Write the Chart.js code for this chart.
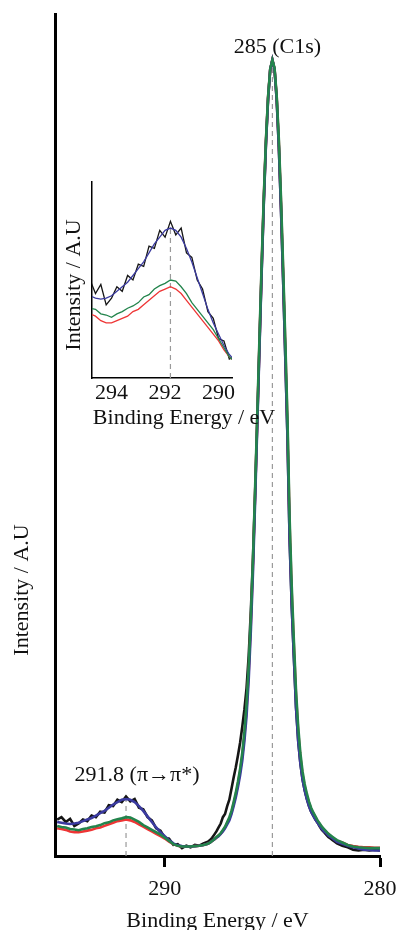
<!DOCTYPE html>
<html>
<head>
<meta charset="utf-8">
<script src="https://cdn.jsdelivr.net/npm/chart.js@4"></script>
<style>
  html, body { margin: 0; padding: 0; background: #fff; }
  #wrap { position: relative; width: 399px; height: 930px; }
  canvas { position: absolute; left: 0; top: 0; }
</style>
</head>
<body>
<div id="wrap">
  <canvas id="mainChart" width="399" height="930"></canvas>
  <canvas id="insetChart" width="399" height="930"></canvas>
</div>
<script>
// binding energy (eV)
const energy = [
  295.0, 294.8, 294.6, 294.4, 294.2, 294.0, 293.8, 293.6, 293.4, 293.2,
  293.0, 292.8, 292.6, 292.4, 292.2, 292.0, 291.8, 291.6, 291.4, 291.2,
  291.0, 290.8, 290.6, 290.4, 290.2, 290.0, 289.8, 289.6, 289.4, 289.2,
  289.0, 288.8, 288.6, 288.4, 288.2,
  288.0, 287.9, 287.8, 287.7, 287.6, 287.5, 287.4, 287.3, 287.2, 287.1,
  287.0, 286.9, 286.8, 286.7, 286.6, 286.5, 286.4, 286.3, 286.2, 286.1,
  286.0, 285.9, 285.8, 285.7, 285.6, 285.5, 285.4, 285.3, 285.2, 285.1,
  285.0, 284.9, 284.8, 284.7, 284.6, 284.5, 284.4, 284.3, 284.2, 284.1,
  284.0, 283.9, 283.8, 283.7, 283.6, 283.5, 283.4, 283.3, 283.2, 283.1,
  283.0, 282.9, 282.8, 282.7, 282.6, 282.5, 282.4, 282.3, 282.2, 282.1,
  282.0,
  281.75, 281.5, 281.25, 281.0, 280.75, 280.5, 280.25, 280.0
];

// normalised intensity of the four spectra
const blackCurve = [
  0.041, 0.044, 0.038, 0.042, 0.033, 0.036, 0.041, 0.039, 0.046, 0.044,
  0.051, 0.050, 0.059, 0.058, 0.066, 0.063, 0.070, 0.064, 0.067, 0.056,
  0.054, 0.044, 0.040, 0.030, 0.027, 0.018, 0.017, 0.009, 0.010, 0.005,
  0.008, 0.006, 0.009, 0.008, 0.011,
  0.013, 0.015, 0.018, 0.022, 0.026, 0.031, 0.036, 0.044, 0.048, 0.058,
  0.066, 0.080, 0.094, 0.107, 0.122, 0.138, 0.158, 0.180, 0.207, 0.248,
  0.305, 0.372, 0.455, 0.546, 0.640, 0.733, 0.820, 0.894, 0.951, 0.988,
  1.000, 0.988, 0.950, 0.890, 0.812, 0.722, 0.625, 0.525, 0.395, 0.310,
  0.245, 0.182, 0.140, 0.112, 0.092, 0.078, 0.067, 0.058, 0.051, 0.046,
  0.041, 0.037, 0.032, 0.028, 0.025, 0.022, 0.019, 0.017, 0.015, 0.013,
  0.011,
  0.008, 0.006, 0.003, 0.002, 0.003, 0.002, 0.003, 0.002
];
const redCurve = [
  0.030, 0.029, 0.028, 0.026, 0.025, 0.025, 0.026, 0.027, 0.028, 0.030,
  0.031, 0.033, 0.035, 0.037, 0.039, 0.040, 0.041, 0.040, 0.038, 0.035,
  0.032, 0.029, 0.026, 0.023, 0.020, 0.017, 0.013, 0.010, 0.008, 0.007,
  0.007, 0.007, 0.0075, 0.008, 0.009,
  0.0105, 0.012, 0.014, 0.016, 0.018, 0.021, 0.023, 0.027, 0.031, 0.037,
  0.042, 0.050, 0.061, 0.072, 0.086, 0.102, 0.121, 0.147, 0.181, 0.228,
  0.290, 0.365, 0.455, 0.549, 0.644, 0.738, 0.824, 0.897, 0.953, 0.988,
  1.000, 0.989, 0.953, 0.896, 0.820, 0.732, 0.638, 0.540, 0.413, 0.326,
  0.259, 0.197, 0.152, 0.120, 0.098, 0.083, 0.071, 0.062, 0.054, 0.049,
  0.044, 0.039, 0.035, 0.031, 0.028, 0.025, 0.023, 0.020, 0.018, 0.016,
  0.014,
  0.012, 0.009, 0.0075, 0.0065, 0.006, 0.006, 0.0055, 0.0055
];
const blueCurve = [
  0.038, 0.037, 0.036, 0.0355, 0.036, 0.037, 0.039, 0.041, 0.043, 0.046,
  0.049, 0.052, 0.056, 0.060, 0.063, 0.066, 0.067, 0.066, 0.063, 0.058,
  0.052, 0.045, 0.038, 0.031, 0.025, 0.020, 0.015, 0.011, 0.0085, 0.0075,
  0.007, 0.007, 0.0075, 0.008, 0.009,
  0.0105, 0.012, 0.014, 0.016, 0.018, 0.020, 0.023, 0.026, 0.030, 0.035,
  0.040, 0.048, 0.058, 0.069, 0.082, 0.097, 0.115, 0.140, 0.172, 0.218,
  0.280, 0.355, 0.445, 0.540, 0.636, 0.730, 0.818, 0.893, 0.950, 0.988,
  1.000, 0.988, 0.950, 0.890, 0.812, 0.722, 0.625, 0.525, 0.395, 0.310,
  0.245, 0.182, 0.140, 0.112, 0.092, 0.078, 0.067, 0.058, 0.051, 0.046,
  0.041, 0.037, 0.033, 0.029, 0.026, 0.024, 0.021, 0.019, 0.017, 0.015,
  0.013,
  0.0105, 0.008, 0.006, 0.0045, 0.003, 0.0025, 0.002, 0.002
];
const greenCurve = [
  0.033, 0.0315, 0.031, 0.029, 0.0285, 0.0275, 0.029, 0.030, 0.0315, 0.0325,
  0.034, 0.0365, 0.0375, 0.040, 0.0415, 0.0425, 0.044, 0.0435, 0.041, 0.038,
  0.034, 0.031, 0.028, 0.025, 0.022, 0.018, 0.014, 0.010, 0.008, 0.007,
  0.007, 0.007, 0.0075, 0.008, 0.009,
  0.0105, 0.012, 0.014, 0.016, 0.019, 0.021, 0.024, 0.028, 0.032, 0.038,
  0.044, 0.052, 0.063, 0.075, 0.089, 0.105, 0.125, 0.152, 0.187, 0.235,
  0.297, 0.372, 0.462, 0.555, 0.650, 0.742, 0.827, 0.899, 0.954, 0.989,
  1.000, 0.990, 0.955, 0.900, 0.826, 0.739, 0.646, 0.549, 0.422, 0.335,
  0.266, 0.203, 0.158, 0.125, 0.102, 0.086, 0.074, 0.064, 0.056, 0.050,
  0.045, 0.040, 0.036, 0.032, 0.029, 0.026, 0.023, 0.021, 0.019, 0.017,
  0.015,
  0.012, 0.009, 0.007, 0.006, 0.0055, 0.005, 0.005, 0.005
];

// marked peaks: position, label, height of the dashed guide
const peakPositions = [285, 291.8];
const peakLabels = ['285 (C1s)', '291.8 (\u03c0\u2192\u03c0*)'];
const guideTops = [1.0, 0.067];

const mainTicks = [290, 280];
const insetTicks = [294, 292, 290];
const xTitle = 'Binding Energy / eV';
const yTitle = 'Intensity / A.U';

const serif = "'Liberation Serif', 'Times New Roman', serif";
Chart.defaults.font.family = serif;
Chart.defaults.color = '#111';

const colors = { black: '#151515', red: '#ee3535', blue: '#3b3ba0', green: '#23844c' };

function series(ys, color, width, order) {
  return {
    data: energy.map((e, i) => ({ x: e, y: ys[i] })),
    borderColor: color, borderWidth: width, pointRadius: 0,
    fill: false, tension: 0, order: order
  };
}

function guide(x, top, bottom) {
  return {
    data: [{ x: x, y: bottom }, { x: x, y: top }],
    borderColor: '#9a9a9a', borderWidth: 1.2, borderDash: [5, 4],
    pointRadius: 0, fill: false, order: 10
  };
}

function spectra(width) {
  return [
    series(blackCurve, colors.black, width, 4),
    series(redCurve, colors.red, width, 3),
    series(blueCurve, colors.blue, width, 2),
    series(greenCurve, colors.green, width, 1)
  ];
}

// keep the plot box where the padding puts it
function fixX(height) {
  return s => { s.height = height; s.paddingLeft = 0; s.paddingRight = 0; };
}

const mainText = {
  id: 'mainText',
  afterDraw(chart) {
    const { ctx, chartArea: a, scales: { x, y } } = chart;
    ctx.save();
    ctx.fillStyle = '#111';
    ctx.font = '22px ' + serif;
    ctx.textAlign = 'center';
    ctx.textBaseline = 'middle';
    ctx.fillText(peakLabels[0], x.getPixelForValue(peakPositions[0]) + 5, y.getPixelForValue(guideTops[0]) - 13);
    ctx.fillText(peakLabels[1], x.getPixelForValue(peakPositions[1]) + 11, y.getPixelForValue(guideTops[1]) - 24);
    ctx.fillText(xTitle, (a.left + a.right) / 2, a.bottom + 65);
    ctx.translate(22, 590);
    ctx.rotate(-Math.PI / 2);
    ctx.fillText(yTitle, 0, 0);
    ctx.restore();
  }
};

const insetText = {
  id: 'insetText',
  afterDraw(chart) {
    const { ctx, chartArea: a } = chart;
    ctx.save();
    ctx.fillStyle = '#111';
    ctx.font = '22px ' + serif;
    ctx.textAlign = 'center';
    ctx.textBaseline = 'middle';
    ctx.fillText(xTitle, a.left + 92, a.bottom + 40);
    ctx.translate(a.left - 18, (a.top + a.bottom) / 2 + 5);
    ctx.rotate(-Math.PI / 2);
    ctx.fillText(yTitle, 0, 0);
    ctx.restore();
  }
};

const mainYMin = -0.005;
new Chart(document.getElementById('mainChart'), {
  type: 'line',
  data: {
    datasets: spectra(2.6).concat([
      guide(peakPositions[0], guideTops[0], mainYMin),
      guide(peakPositions[1], guideTops[1], mainYMin)
    ])
  },
  options: {
    responsive: false,
    animation: false,
    events: [],
    layout: { padding: { left: 55, right: 19, top: 14, bottom: 0 } },
    plugins: { legend: { display: false }, tooltip: { enabled: false } },
    scales: {
      x: {
        type: 'linear', reverse: true, min: 280, max: 295.1,
        afterBuildTicks: s => { s.ticks = mainTicks.map(v => ({ value: v })); },
        afterFit: fixX(74),
        grid: { drawOnChartArea: false, drawTicks: true, tickLength: 11, tickWidth: 3, tickColor: '#000' },
        border: { display: true, color: '#000', width: 3 },
        ticks: { font: { size: 22 }, color: '#111', padding: 9, maxRotation: 0 }
      },
      y: {
        type: 'linear', min: mainYMin, max: 1.058,
        afterFit: s => { s.width = 0; },
        grid: { display: false },
        border: { display: true, color: '#000', width: 3 },
        ticks: { display: false }
      }
    }
  },
  plugins: [mainText]
});

const insetYMin = 0.0006;
new Chart(document.getElementById('insetChart'), {
  type: 'line',
  data: {
    datasets: spectra(1.3).concat([guide(peakPositions[1], guideTops[1], insetYMin)])
  },
  options: {
    responsive: false,
    animation: false,
    events: [],
    layout: { padding: { left: 92, right: 167, top: 182, bottom: 0 } },
    plugins: { legend: { display: false }, tooltip: { enabled: false } },
    scales: {
      x: {
        type: 'linear', reverse: true, min: 289.5, max: 294.73,
        afterBuildTicks: s => { s.ticks = insetTicks.map(v => ({ value: v })); },
        afterFit: fixX(552),
        grid: { drawOnChartArea: false, drawTicks: false },
        border: { display: true, color: '#000', width: 1.5 },
        ticks: { font: { size: 22 }, color: '#111', padding: 2, maxRotation: 0 }
      },
      y: {
        type: 'linear', min: insetYMin, max: 0.0874,
        afterFit: s => { s.width = 0; },
        grid: { display: false },
        border: { display: true, color: '#000', width: 1.5 },
        ticks: { display: false }
      }
    }
  },
  plugins: [insetText]
});
</script>
</body>
</html>
